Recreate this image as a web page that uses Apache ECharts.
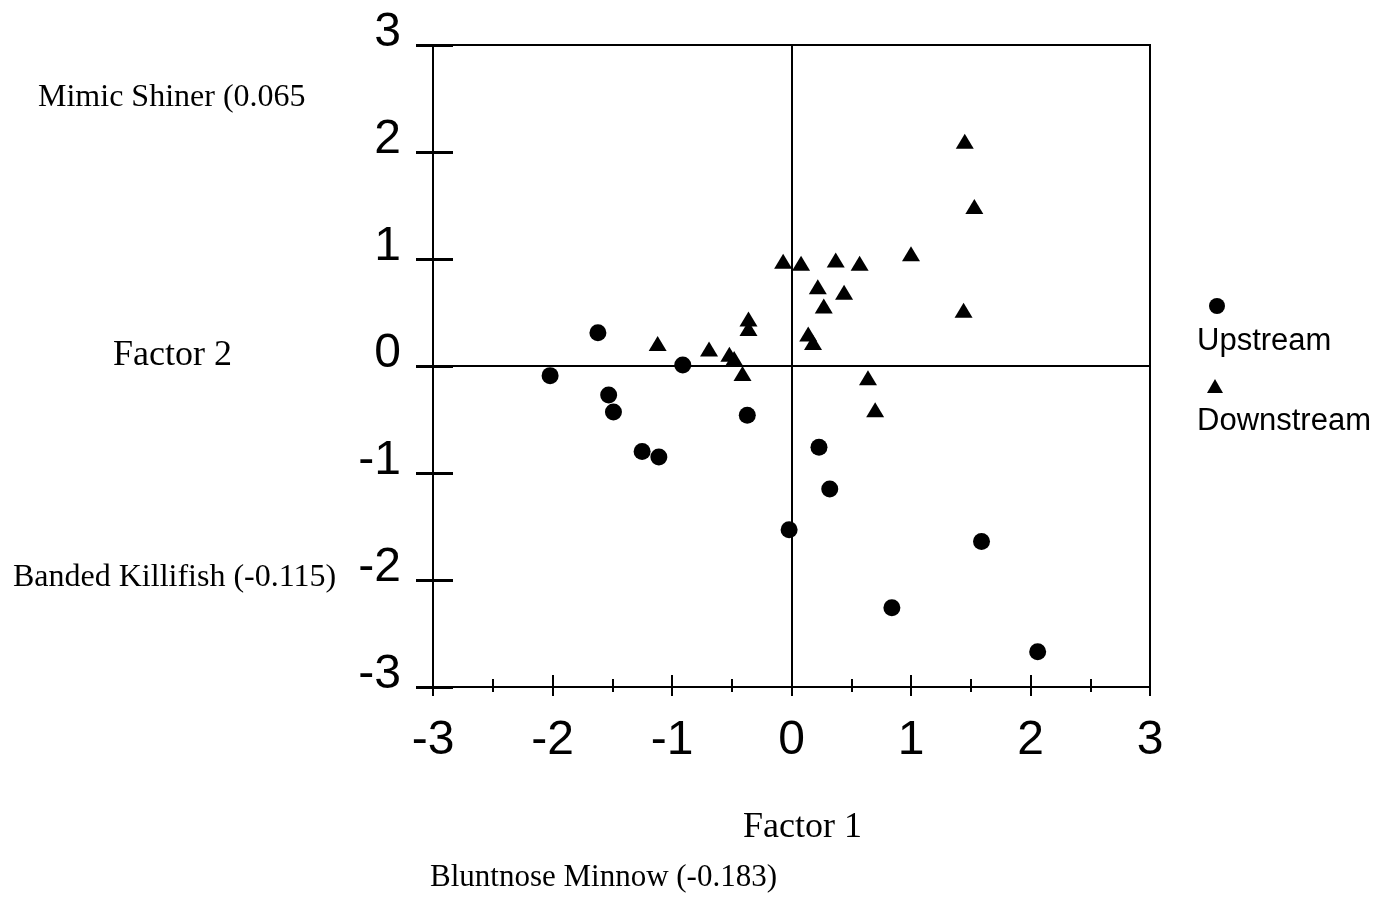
<!DOCTYPE html>
<html>
<head>
<meta charset="utf-8">
<script src="https://cdn.jsdelivr.net/npm/echarts@6/dist/echarts.min.js"></script>
<style>
html,body{margin:0;padding:0;background:#fff;}
#chart{width:1389px;height:901px;}
</style>
</head>
<body>
<div id="chart"></div>
<script>
// Data
var upstreamX = [-2.02, -1.62, -1.53, -1.49, -1.25, -1.11, -0.91, -0.37, -0.02, 0.23, 0.32, 0.84, 1.59, 2.06];
var upstreamY = [-0.09, 0.31, -0.27, -0.43, -0.80, -0.85, 0.01, -0.46, -1.53, -0.76, -1.15, -2.26, -1.64, -2.67];
var downstreamX = [-1.12, -0.69, -0.52, -0.48, -0.36, -0.36, -0.41, -0.07, 0.08, 0.37, 0.57, 1.00, 1.45, 1.53, 1.44, 0.22, 0.44, 0.27, 0.14, 0.18, 0.64, 0.70];
var downstreamY = [0.21, 0.16, 0.11, 0.07, 0.44, 0.35, -0.07, 0.98, 0.96, 0.99, 0.96, 1.05, 2.10, 1.49, 0.52, 0.74, 0.69, 0.56, 0.30, 0.22, -0.11, -0.41];
var axisMin = -3, axisMax = 3, axisStep = 1;
var seriesNames = ['Upstream', 'Downstream'];
var xTitle = 'Factor 1', yTitle = 'Factor 2';
var noteTop = 'Mimic Shiner (0.065';
var noteMid = 'Banded Killifish (-0.115)';
var noteBottom = 'Bluntnose Minnow (-0.183)';

function pairs(xs, ys){ return xs.map(function(x,i){ return [x, ys[i]]; }); }

var sans = 'Liberation Sans, Arial, sans-serif';
var serif = 'Liberation Serif, Times New Roman, serif';
var black = '#000';

var chart = echarts.init(document.getElementById('chart'), null, {renderer:'canvas'});
var baseAxis = {
  type:'value', min:axisMin, max:axisMax, interval:axisStep,
  splitLine:{show:false}
};
chart.setOption({
  animation:false,
  backgroundColor:'#fff',
  grid:{left:433, right:239, top:45, bottom:214, show:true, borderColor:black, borderWidth:2, backgroundColor:'transparent'},
  xAxis:[
    Object.assign({}, baseAxis, {
      position:'bottom',
      axisLine:{show:true, onZero:false, lineStyle:{color:black, width:2}},
      axisTick:{show:true, length:9, lineStyle:{color:black, width:2}},
      minorTick:{show:true, splitNumber:2, length:5, lineStyle:{color:black, width:2}},
      axisLabel:{show:true, color:black, fontSize:48, fontFamily:sans, margin:30}
    }),
    Object.assign({}, baseAxis, {
      position:'bottom',
      axisLine:{show:false, onZero:false},
      axisTick:{show:true, inside:true, length:12, lineStyle:{color:black, width:2}},
      minorTick:{show:true, splitNumber:2, length:8, lineStyle:{color:black, width:2}},
      axisLabel:{show:false}
    })
  ],
  yAxis:[
    Object.assign({}, baseAxis, {
      position:'left',
      axisLine:{show:true, onZero:false, lineStyle:{color:black, width:2}},
      axisTick:{show:true, length:17, lineStyle:{color:black, width:3}},
      axisLabel:{show:true, color:black, fontSize:48, fontFamily:sans, margin:32, verticalAlign:'bottom', lineHeight:24}
    }),
    Object.assign({}, baseAxis, {
      position:'left',
      axisLine:{show:false, onZero:false},
      axisTick:{show:true, inside:true, length:20, lineStyle:{color:black, width:3}},
      axisLabel:{show:false}
    })
  ],
  series:[
    {
      name:seriesNames[0], type:'scatter', xAxisIndex:0, yAxisIndex:0,
      symbol:'circle', symbolSize:17,
      itemStyle:{color:black, opacity:1},
      data:pairs(upstreamX, upstreamY),
      markLine:{
        silent:true, symbol:'none', label:{show:false},
        lineStyle:{color:black, width:2, type:'solid', opacity:1},
        data:[{xAxis:0},{yAxis:0}]
      },
      z:3
    },
    {
      name:seriesNames[1], type:'scatter', xAxisIndex:0, yAxisIndex:0,
      symbol:'triangle', symbolSize:[18,15],
      itemStyle:{color:black, opacity:1},
      data:pairs(downstreamX, downstreamY),
      z:3
    }
  ],
  graphic:[
    {type:'text', left:38, top:82, style:{text:noteTop, fill:black, font:'32px ' + serif}},
    {type:'text', left:113, top:338, style:{text:yTitle, fill:black, font:'36px ' + serif}},
    {type:'text', left:13, top:562, style:{text:noteMid, fill:black, font:'32px ' + serif}},
    {type:'text', left:743, top:810, style:{text:xTitle, fill:black, font:'36px ' + serif}},
    {type:'text', left:430, top:862, style:{text:noteBottom, fill:black, font:'31px ' + serif}},
    {type:'circle', shape:{cx:1217, cy:306, r:8}, style:{fill:black}},
    {type:'text', left:1197, top:326, style:{text:seriesNames[0], fill:black, font:'31px ' + sans}},
    {type:'polygon', shape:{points:[[1215,379],[1207,393],[1223,393]]}, style:{fill:black}},
    {type:'text', left:1197, top:406, style:{text:seriesNames[1], fill:black, font:'31px ' + sans}}
  ]
});
</script>
</body>
</html>
